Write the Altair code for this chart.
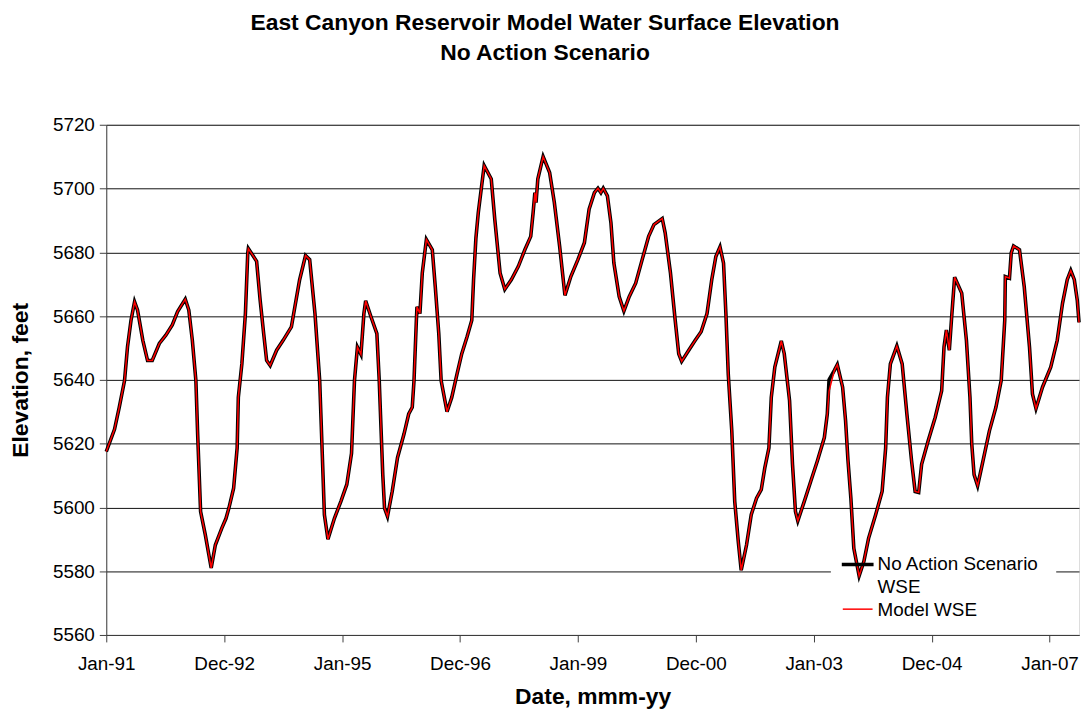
import altair as alt
import pandas as pd

# decimal year of each traced point
years = [
    1991.00, 1991.14, 1991.22, 1991.31, 1991.36, 1991.42, 1991.48, 1991.53, 1991.62, 1991.70,
    1991.78, 1991.90, 1992.01, 1992.12, 1992.21, 1992.34, 1992.40, 1992.46, 1992.52, 1992.55,
    1992.60, 1992.68, 1992.78, 1992.85, 1992.96, 1993.03, 1993.08, 1993.16, 1993.22, 1993.24,
    1993.30, 1993.36, 1993.40, 1993.41, 1993.55, 1993.61, 1993.67, 1993.72, 1993.78, 1993.89,
    1994.00, 1994.14, 1994.20, 1994.28, 1994.38, 1994.45, 1994.54, 1994.62, 1994.66, 1994.70,
    1994.76, 1994.87, 1994.98, 1995.08, 1995.16, 1995.21, 1995.26, 1995.32, 1995.37, 1995.40,
    1995.49, 1995.59, 1995.63, 1995.66, 1995.69, 1995.72, 1995.77, 1995.85, 1995.94, 1996.05,
    1996.13, 1996.19, 1996.22, 1996.26, 1996.27, 1996.32, 1996.36, 1996.43, 1996.53, 1996.58,
    1996.64, 1996.68, 1996.78, 1996.86, 1996.95, 1997.03, 1997.12, 1997.20, 1997.23, 1997.27,
    1997.31, 1997.41, 1997.53, 1997.59, 1997.68, 1997.76, 1997.87, 1997.99, 1998.10, 1998.20,
    1998.24, 1998.27, 1998.29, 1998.32, 1998.41, 1998.52, 1998.60, 1998.69, 1998.78, 1998.88,
    1999.00, 1999.11, 1999.19, 1999.28, 1999.34, 1999.39, 1999.43, 1999.50, 1999.56, 1999.61,
    1999.70, 1999.78, 1999.87, 1999.98, 2000.09, 2000.20, 2000.29, 2000.43, 2000.48, 2000.57,
    2000.65, 2000.71, 2000.76, 2000.88, 2000.99, 2001.09, 2001.19, 2001.27, 2001.34, 2001.41,
    2001.47, 2001.51, 2001.55, 2001.61, 2001.66, 2001.72, 2001.77, 2001.86, 2001.94, 2002.03,
    2002.11, 2002.17, 2002.24, 2002.28, 2002.34, 2002.45, 2002.50, 2002.59, 2002.64, 2002.69,
    2002.73, 2002.84, 2002.95, 2003.06, 2003.18, 2003.23, 2003.26, 2003.35, 2003.40, 2003.49,
    2003.54, 2003.58, 2003.63, 2003.68, 2003.77, 2003.85, 2003.93, 2004.05, 2004.16, 2004.22,
    2004.25, 2004.30, 2004.41, 2004.50, 2004.58, 2004.66, 2004.72, 2004.78, 2004.83, 2004.94,
    2005.06, 2005.17, 2005.21, 2005.25, 2005.30, 2005.34, 2005.39, 2005.51, 2005.59, 2005.65,
    2005.68, 2005.72, 2005.78, 2005.87, 2005.98, 2006.09, 2006.18, 2006.24, 2006.25, 2006.32,
    2006.35, 2006.39, 2006.49, 2006.57, 2006.66, 2006.71, 2006.77, 2006.88, 2007.02, 2007.13,
    2007.22, 2007.30, 2007.36, 2007.42, 2007.47, 2007.50,
]

# No Action Scenario water surface elevation, feet
no_action_wse = [
    5617.5, 5624.5, 5631.4, 5639.8, 5650.3, 5658.7, 5664.5, 5661.9, 5652.4, 5646.1,
    5646.1, 5651.4, 5654.0, 5657.2, 5661.4, 5665.3, 5661.9, 5652.4, 5639.8, 5623.0,
    5598.7, 5591.4, 5581.0, 5588.2, 5593.5, 5596.5, 5599.8, 5606.0, 5618.7, 5634.5,
    5645.0, 5660.8, 5679.8, 5681.2, 5677.2, 5665.0, 5654.5, 5646.1, 5644.5, 5649.3,
    5652.4, 5656.6, 5663.0, 5671.4, 5679.0, 5677.7, 5660.8, 5639.8, 5618.7, 5597.7,
    5590.0, 5596.6, 5601.9, 5607.2, 5617.0, 5639.8, 5650.3, 5648.0, 5660.8, 5664.8,
    5659.8, 5654.5, 5639.8, 5625.0, 5610.3, 5599.8, 5597.2, 5605.0, 5615.6, 5623.0,
    5629.3, 5631.4, 5639.8, 5658.7, 5662.9, 5660.8, 5673.5, 5684.0, 5680.8, 5669.3,
    5654.5, 5639.8, 5630.0, 5634.5, 5641.9, 5648.2, 5653.5, 5658.7, 5671.4, 5684.5,
    5692.4, 5707.2, 5703.0, 5690.3, 5673.5, 5668.4, 5671.4, 5675.6, 5680.8, 5685.0,
    5692.4, 5698.7, 5695.6, 5703.0, 5710.0, 5705.0, 5695.6, 5681.9, 5666.5, 5672.4,
    5677.7, 5683.0, 5693.5, 5698.7, 5700.1, 5698.7, 5700.1, 5697.7, 5689.3, 5676.6,
    5666.1, 5661.6, 5666.1, 5670.3, 5677.7, 5685.0, 5688.7, 5690.6, 5686.1, 5673.5,
    5658.7, 5648.2, 5645.8, 5649.3, 5652.4, 5655.1, 5660.8, 5671.4, 5678.7, 5681.7,
    5676.6, 5660.8, 5641.9, 5624.0, 5601.9, 5589.3, 5580.3, 5588.2, 5597.7, 5602.9,
    5605.6, 5612.4, 5618.7, 5634.5, 5644.0, 5652.2, 5648.2, 5633.5, 5613.5, 5598.7,
    5595.8, 5601.9, 5608.2, 5614.5, 5621.9, 5629.3, 5640.0, 5643.0, 5644.8, 5637.7,
    5627.2, 5615.0, 5602.9, 5587.2, 5578.5, 5583.0, 5590.3, 5597.7, 5605.0, 5618.7,
    5634.5, 5645.0, 5650.6, 5645.0, 5629.3, 5614.5, 5605.0, 5604.7, 5613.5, 5620.8,
    5628.2, 5636.6, 5650.3, 5655.6, 5649.3, 5659.8, 5672.2, 5667.2, 5652.4, 5634.5,
    5620.0, 5610.3, 5606.8, 5614.5, 5624.0, 5631.4, 5639.8, 5658.7, 5672.4, 5671.9,
    5679.8, 5682.0, 5680.8, 5669.3, 5650.3, 5635.6, 5631.0, 5637.7, 5644.0, 5652.4,
    5664.0, 5671.4, 5674.3, 5671.4, 5665.0, 5658.0,
]

# Model WSE: follows the scenario line except where the picture shows a gap
model_wse = list(no_action_wse)
model_differences = {2003.26: 5636.5}
for yr, val in model_differences.items():
    model_wse[years.index(yr)] = val

tick_years = [1991, 1993, 1995, 1997, 1999, 2001, 2003, 2005, 2007]
tick_labels = ["Jan-91", "Dec-92", "Jan-95", "Dec-96", "Jan-99",
               "Dec-00", "Jan-03", "Dec-04", "Jan-07"]
y_ticks = [5560, 5580, 5600, 5620, 5640, 5660, 5680, 5700, 5720]

series_names = ["No Action Scenario WSE", "Model WSE"]

FONT = "Liberation Sans"

df_scn = pd.DataFrame({"year": years, "wse": no_action_wse})
df_mod = pd.DataFrame({"year": years, "wse": model_wse})

label_expr = "[" + ",".join("'%s'" % t for t in tick_labels) + "][round((datum.value - 1991) / 2)]"

x_enc = alt.X(
    "year:Q",
    scale=alt.Scale(domain=[1991, 2007.5], nice=False, zero=False),
    axis=alt.Axis(
        values=tick_years, labelExpr=label_expr, title="Date, mmm-yy",
        grid=False, tickSize=7, labelPadding=13, labelFontSize=19,
        labelFont=FONT, labelColor="black", titleFont=FONT, titleFontSize=23,
        titleFontWeight="bold", titleColor="black", titleY=62, titleBaseline="middle",
        domainColor="#404040", tickColor="#404040", labelFlush=False,
    ),
)
y_enc = alt.Y(
    "wse:Q",
    scale=alt.Scale(domain=[5560, 5720], nice=False, zero=False),
    axis=alt.Axis(
        values=y_ticks, title="Elevation, feet", grid=True, gridColor="#111111",
        gridWidth=1, tickSize=7, labelPadding=5, labelFontSize=19, labelFont=FONT,
        labelColor="black", titleFont=FONT, titleFontSize=23, titleFontWeight="bold",
        titleColor="black", titleX=-86, titleY=257, titleAlign="center",
        titleBaseline="middle", domainColor="#404040", tickColor="#404040",
        labelFlush=False, format="d",
    ),
)

one = alt.Data(values=[{}])

legend_bg = alt.Chart(one).mark_rect(fill="white").encode(
    x=alt.value(730), x2=alt.value(957), y=alt.value(424), y2=alt.value(500)
)

line_scn = alt.Chart(df_scn).mark_line(color="black", strokeWidth=3.6).encode(
    x=x_enc, y=y_enc
)
line_mod = alt.Chart(df_mod).mark_line(color="#ff0000", strokeWidth=1.5).encode(
    x="year:Q", y="wse:Q"
)

leg_rule1 = alt.Chart(one).mark_rule(color="black", strokeWidth=3.6).encode(
    x=alt.value(741), x2=alt.value(773), y=alt.value(443)
)
leg_rule2 = alt.Chart(one).mark_rule(color="#ff0000", strokeWidth=1.5).encode(
    x=alt.value(742), x2=alt.value(772), y=alt.value(488)
)
txt_kw = dict(align="left", baseline="alphabetic", fontSize=19, font=FONT, color="black")
leg_t1 = alt.Chart(one).mark_text(text="No Action Scenario", **txt_kw).encode(
    x=alt.value(777), y=alt.value(449)
)
leg_t2 = alt.Chart(one).mark_text(text="WSE", **txt_kw).encode(
    x=alt.value(777), y=alt.value(472)
)
leg_t3 = alt.Chart(one).mark_text(text=series_names[1], **txt_kw).encode(
    x=alt.value(777), y=alt.value(495)
)

chart = alt.layer(
    legend_bg, line_scn, line_mod, leg_rule1, leg_rule2, leg_t1, leg_t2, leg_t3
).properties(
    width=980,
    height=514,
    title=alt.TitleParams(
        ["East Canyon Reservoir Model Water Surface Elevation", "No Action Scenario"],
        fontSize=23, font=FONT, fontWeight="bold", color="black",
        anchor="middle", dx=-48, offset=51, lineHeight=30,
    ),
    autosize=alt.AutoSizeParams(type="none"),
    padding={"left": 99, "top": 115, "right": 4, "bottom": 78},
).configure_view(
    stroke="#808080", strokeWidth=1
).configure(background="white")

chart.save("out.html", embed_options={"renderer": "svg", "actions": False})
